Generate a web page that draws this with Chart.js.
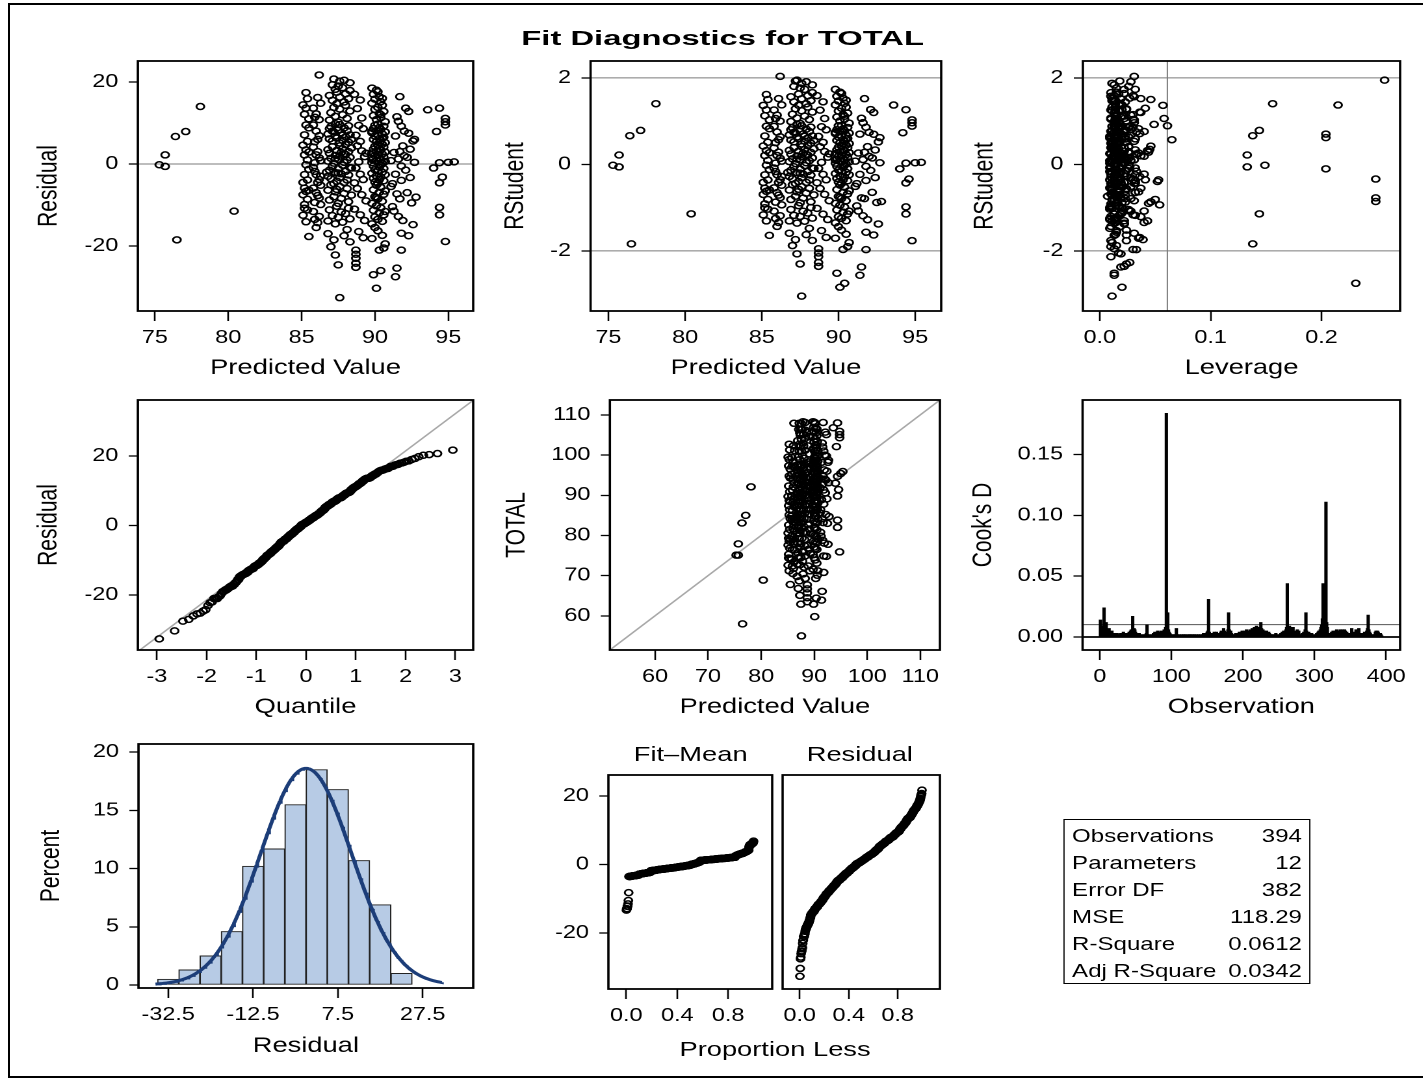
<!DOCTYPE html>
<html>
<head>
<meta charset="utf-8">
<title>Fit Diagnostics for TOTAL</title>
<script src="https://cdn.jsdelivr.net/npm/chart.js@4.4.1/dist/chart.umd.min.js"></script>
<style>
  html, body { margin: 0; padding: 0; background: #fff; }
  #page { position: relative; width: 1423px; height: 1080px; overflow: hidden; background: #fff; }
  #frame { position: absolute; left: 8px; top: 3px; width: 1440px; height: 1075px; border: 2px solid #000; box-sizing: border-box; }
  #stage { position: absolute; left: 0; top: 0; height: 1080px; transform-origin: 0 0; font-family: "Liberation Sans", Arial, sans-serif; color: #000; }
  #stage canvas, #stage .lbl { position: absolute; }
  .lbl { white-space: nowrap; }
  #title { font-weight: bold; font-size: 19.5px; line-height: 24px; transform-origin: 50% 50%; }
  .sub { font-size: 21px; line-height: 24px; }
  #stats { position: absolute; border: 1.5px solid #000; box-sizing: border-box; font-size: 18.5px; padding-top: 2px; }
  #stats div { display: flex; justify-content: space-between; height: 27px; line-height: 27px; padding: 0 6px; }
</style>
</head>
<body>
<div id="page">
  <div id="frame"></div>
  <div id="stage">
    <div id="title" class="lbl">Fit Diagnostics for TOTAL</div>
    <div id="subFit" class="lbl sub">Fit–Mean</div>
    <div id="subRes" class="lbl sub">Residual</div>
    <div id="propLess" class="lbl sub">Proportion Less</div>
    <div id="stats"></div>
  </div>
</div>
<script>
// ---- observations (grouped by band of fitted value) ----
var predicted = [
  75.3, 75.7, 75.7, 76.4, 77.1, 78.1, 80.4, 76.5,
  85.5, 85.2, 85.4, 85.1, 85.3, 85.2, 85.5, 85.3, 85.1, 85.4, 85.2, 85.3, 85.5, 85.2, 85.4, 85.1,
  85.3, 85.5, 85.2, 85.4, 85.1, 85.3, 85.5, 85.2, 85.4, 85.1, 85.3, 85.2, 85.5, 85.3, 85.4,
  86.0, 85.8, 86.2, 85.9, 86.1, 86.3, 85.8, 86.0, 86.2, 85.9, 86.1, 86.3, 85.8, 86.0, 86.2, 85.9, 86.1, 86.3,
  85.8, 86.0, 86.2, 85.9, 86.1, 86.3, 85.8, 86.0, 86.2, 85.9, 86.1, 86.3, 85.8, 86.0, 86.2, 85.9, 86.1, 86.2,
  87.6, 87.5, 87.0, 87.3, 88.1, 86.8, 87.9, 87.2, 88.3,
  87.4, 88.2, 86.9, 87.7, 88.0, 87.1, 87.5, 88.3, 86.8, 87.8, 87.3,
  87.0, 87.6, 88.1, 86.8, 87.3, 87.9, 88.4, 87.2, 87.7, 86.9, 88.2, 87.5, 87.4,
  87.8, 87.1, 88.3, 87.5, 86.9, 88.0, 87.3, 87.7, 88.2, 86.8, 87.6, 87.0, 88.1, 87.4, 87.9, 87.2, 88.4, 86.7, 87.5,
  87.2, 87.9, 86.8, 88.1, 87.5, 87.0, 88.3, 87.6, 87.3, 88.0, 86.9, 87.7, 88.2, 87.4, 86.8, 87.8, 88.4, 87.1, 87.6, 88.0, 87.3, 87.9,
  87.6, 88.2, 87.1, 87.8, 86.9, 87.4, 88.0, 87.3, 88.3, 86.8, 87.7, 87.2, 88.1, 87.5, 86.9, 87.9, 87.0, 88.2, 87.6, 87.3, 88.4, 87.8, 87.1,
  87.5, 86.9, 88.1, 87.3, 87.8, 87.0, 88.3, 87.6, 87.2, 88.0, 87.4,
  87.9, 87.1, 88.2, 87.6, 86.9, 88.0, 87.4, 88.3, 87.3, 87.8, 87.5, 87.1, 88.3,
  87.2, 87.6, 87.9,
  88.7, 88.7, 88.7, 88.7, 88.7, 88.9, 89.2, 88.6, 89.0, 89.3, 88.8, 89.1, 89.4, 88.7, 89.0,
  89.2, 88.6, 88.9, 89.3, 89.1, 88.8, 89.4, 89.0, 88.7, 89.2, 88.9, 89.1, 88.8, 89.0, 88.6,
  90.1, 90.4, 89.9, 90.3, 90.6, 90.0, 90.2, 90.5, 89.8, 90.7,
  90.1, 90.4, 89.9, 90.3, 90.6, 90.0, 90.2, 90.5, 89.8, 90.7,
  90.1, 90.4, 89.9, 90.3, 90.6, 90.0, 90.2, 90.5, 89.8, 90.7, 90.1,
  90.4, 89.9, 90.3, 90.6, 90.0, 90.2, 90.5, 89.8, 90.7, 90.1, 90.4, 89.9, 90.3, 90.6, 90.0, 90.2,
  90.5, 89.8, 90.7, 90.1, 90.4, 89.9, 90.3, 90.6, 90.0, 90.2, 90.5, 89.8, 90.7, 90.1, 90.4, 89.9, 90.3, 90.6, 90.0, 90.2, 90.5, 89.8,
  90.7, 90.1, 90.4, 89.9, 90.3, 90.6, 90.0, 90.2, 90.5, 89.8, 90.7, 90.1, 90.4, 89.9, 90.3, 90.6, 90.0, 90.2, 90.5, 89.8,
  90.7, 90.1, 90.4, 89.9, 90.3, 90.6, 90.0, 90.2, 90.5, 89.8, 90.4,
  90.4, 90.0, 90.3, 89.9, 90.2, 90.1, 89.8, 90.5,
  91.5, 91.4, 91.8, 91.8, 92.3, 91.2, 91.6, 91.3, 91.9, 92.6,
  91.1, 92.2, 91.7, 92.5, 91.5, 92.8, 91.8, 92.1, 91.4, 92.4, 91.8, 91.2,
  92.7, 91.6, 92.0, 91.3, 92.4, 91.9, 91.1, 92.2, 91.7,
  92.6, 91.4, 92.0, 91.8, 92.3, 92.7, 91.5, 92.1, 91.6, 92.3, 91.7,
  94.8, 94.4, 94.4, 94.4, 94.0, 94.6, 94.4, 95.0, 95.4, 94.8, 94.2, 93.6, 94.4, 94.8, 94.8
];

var residual = [
  -0.2, -0.6, 2.2, 6.7, 7.9, 14.0, -11.5, -18.5,
  -17.7, -10.8, -11.2, -12.5, -14.1, -5.9, -6.4, -6.7, -7.5, -8.6, -9.9, -0.2, -1.3, -2.6, -3.9, -4.5,
  3.4, 2.9, 2.2, 1.0, 4.6, 9.5, 8.8, 7.1, 5.5, 14.4, 13.6, 12.1, 11.0, 17.4, 15.9,
  -15.5, -11.6, -12.8, -13.5, -14.3, -5.2, -5.9, -7.0, -8.3, -9.4, -7.7, -9.9, -0.9, -2.6, -3.8, -1.8, -4.5, -3.0,
  4.1, 2.2, 1.5, 0.3, 3.0, 0.8, 9.5, 8.0, 6.9, 5.4, 6.0, 14.8, 13.6, 12.2, 10.8, 11.4, 16.2, 21.7,
  -32.6, -24.6, -20.2, -22.2, -16.0, -17.0, -17.5, -18.5, -19.0,
  -10.3, -10.8, -11.2, -11.7, -12.1, -12.6, -13.0, -13.4, -13.9, -14.2, -14.6,
  -5.1, -5.5, -6.0, -6.4, -6.8, -7.2, -7.6, -8.0, -8.4, -8.8, -9.2, -9.6, -6.2,
  -0.3, -0.6, -0.9, -1.2, -1.5, -1.8, -2.1, -2.4, -2.7, -3.0, -3.3, -3.6, -3.9, -4.2, -4.5, -4.8, -1.0, -2.0, -2.2,
  0.2, 0.4, 0.7, 0.9, 1.1, 1.4, 1.6, 1.9, 2.1, 2.3, 2.6, 2.8, 3.0, 3.3, 3.5, 3.7, 3.9, 4.2, 4.4, 4.7, 1.3, 2.5,
  5.1, 5.3, 5.6, 5.8, 6.1, 6.3, 6.6, 6.8, 7.1, 7.3, 7.6, 7.8, 8.1, 8.3, 8.6, 8.8, 9.1, 9.3, 9.6, 9.8, 6.0, 7.0, 8.0,
  10.2, 10.7, 11.1, 11.6, 12.0, 12.5, 12.9, 13.4, 13.8, 14.3, 14.7,
  15.1, 15.5, 15.9, 16.3, 16.7, 17.1, 17.5, 17.9, 18.2, 18.6, 19.0, 19.3, 19.8,
  20.7, 20.2, 20.4,
  -25.2, -21.0, -22.0, -23.0, -24.2, -16.5, -18.0, -11.0, -12.4, -13.8, -6.0, -7.5, -9.0, -1.0, -2.5,
  -3.8, -4.6, 0.5, 1.8, 3.2, 4.4, 2.6, 5.5, 7.0, 8.6, 9.4, 11.2, 13.5, 15.6, 17.0,
  -30.3, -26.0, -27.0, -21.0, -20.5, -15.5, -16.3, -17.4, -18.2, -19.5,
  -10.2, -10.7, -11.3, -11.9, -12.4, -12.9, -13.5, -14.0, -14.6, -11.6,
  -5.2, -5.7, -6.3, -6.9, -7.4, -8.0, -8.5, -9.1, -9.6, -6.6, -8.2,
  -0.2, -0.5, -0.8, -1.1, -1.4, -1.7, -2.0, -2.3, -2.6, -2.9, -3.2, -3.5, -3.8, -4.1, -4.4, -4.7,
  0.1, 0.3, 0.6, 0.8, 1.0, 1.3, 1.5, 1.7, 2.0, 2.2, 2.4, 2.7, 2.9, 3.1, 3.4, 3.6, 3.8, 4.1, 4.3, 4.5, 4.8, 1.1,
  5.2, 5.4, 5.7, 6.0, 6.2, 6.5, 6.8, 7.0, 7.3, 7.6, 7.8, 8.1, 8.4, 8.6, 8.9, 9.2, 9.4, 9.7, 6.3, 8.0,
  10.3, 10.8, 11.3, 11.8, 12.3, 12.8, 13.3, 13.8, 14.3, 14.8, 12.0,
  15.2, 15.8, 16.4, 17.0, 17.6, 18.0, 18.5, 16.0,
  -25.4, -27.5, -21.0, -16.9, -17.5, -10.4, -12.8, -11.5, -13.8, -14.8,
  -5.5, -7.0, -8.5, -9.5, -7.3, -8.1, -0.5, -1.5, -2.5, -3.3, -4.0, -4.8,
  0.4, 1.2, 2.0, 2.8, 3.6, 4.4, 0.8, 1.6, 3.0,
  5.6, 6.8, 8.0, 9.2, 7.5, 6.0, 11.5, 13.6, 10.4, 12.8, 16.4,
  -18.9, -10.6, -12.4, -4.6, -1.0, -3.2, 0.3, 0.4, 0.5, 9.5, 7.9, 13.2, 13.6, 11.1, 10.3
];

var leverage = [
  .149, .133, .133, .138, .144, .156, .144, .138,
  .013, .020, .009, .030, .015, .037, .011, .023, .018, .050, .010, .026, .014, .032, .009, .019,
  .043, .013, .022, .028, .011, .017, .035, .010, .024, .057, .014, .020, .031, .015, .046,
  .010, .027, .017, .013, .040, .020, .009, .032, .015, .023, .011, .054, .018, .014, .030, .010, .022, .036,
  .013, .019, .026, .009, .044, .017, .011, .033, .014, .023, .065, .018, .010, .028, .015, .022, .037, .031,
  .011, .024, .015, .019, .009, .031, .014, .039, .010,
  .017, .009, .026, .013, .020, .032, .010, .015, .043, .011, .022,
  .014, .028, .010, .018, .035, .013, .023, .007, .019, .011, .046, .015, .024,
  .020, .010, .032, .014, .024, .009, .017, .040, .013, .022, .028, .011, .018, .052, .015, .010, .026, .019, .014,
  .013, .023, .017, .009, .031, .014, .020, .011, .037, .018, .010, .027, .015, .022, .013, .045, .017, .010, .026, .014, .019, .033,
  .015, .010, .024, .018, .013, .032, .009, .020, .014, .028, .011, .017, .040, .010, .022, .014, .026, .013, .019, .049, .011, .023, .015,
  .018, .013, .030, .010, .022, .015, .036, .011, .024, .014, .020,
  .014, .023, .011, .019, .031, .013, .017, .010, .257, .022, .015, .026, .013,
  .018, .011, .028,
  .022, .013, .017, .010, .027, .015, .036, .011, .019, .009, .024, .014, .031, .018, .010,
  .041, .013, .020, .015, .026, .011, .033, .017, .009, .023, .014, .058, .018, .013, .030,
  .020, .231, .013, .030, .010, .018, .024, .014, .035, .011,
  .015, .010, .026, .019, .013, .037, .009, .022, .014, .028,
  .011, .020, .017, .032, .010, .014, .023, .013, .044, .018, .015,
  .013, .027, .009, .018, .015, .033, .011, .022, .014, .024, .010, .019, .053, .013, .017, .031,
  .014, .020, .010, .028, .017, .011, .023, .015, .040, .013, .019, .009, .026, .018, .014, .032, .011, .022, .015, .046, .013, .024,
  .017, .011, .031, .014, .020, .010, .026, .015, .013, .036, .018, .022, .011, .028, .014, .019, .061, .013, .023, .017,
  .014, .024, .010, .019, .030, .013, .017, .041, .011, .020, .015,
  .018, .013, .027, .010, .022, .015, .032, .014,
  .019, .013, .033, .015, .024, .010, .018, .040, .014, .022,
  .017, .011, .028, .020, .249, .249, .014, .023, .018, .013, .032, .015,
  .022, .011, .017, .035, .014, .026, .010, .019, .015,
  .018, .204, .013, .030, .020, .204, .014, .024, .017, .037, .011,
  .024, .018, .013, .032, .204, .249, .015, .022, .011, .027, .017, .215, .020, .014, .031
];

// Cook's D in observation order (1..394)
var cooksD = [
  .014, .004, .009, .006, .005, .024, .008, .011, .012, .006, .003, .005, .007, .004, .002, .003, .005, .002, .001, .003,
  .001, .002, .001, .003, .002, .001, .002, .001, .003, .002, .001, .002, .004, .002, .001, .003, .002, .001, .002, .003,
  .004, .003, .005, .006, .004, .017, .005, .007, .006, .004, .003, .002, .001, .002, .003, .002, .001, .001, .002, .001,
  .001, .002, .001, .002, .003, .010, .002, .001, .001, .002, .001, .001, .002, .001, .003, .002, .004, .003, .002, .004,
  .005, .003, .002, .004, .003, .005, .004, .002, .003, .006, .004, .008, .184, .007, .020, .006, .004, .003, .002, .001,
  .002, .001, .001, .002, .001, .002, .007, .002, .001, .001, .002, .001, .001, .002, .001, .001, .002, .001, .002, .001,
  .001, .002, .001, .001, .002, .001, .002, .001, .001, .002, .001, .002, .001, .001, .002, .001, .001, .002, .001, .001,
  .002, .001, .001, .002, .003, .002, .001, .002, .003, .004, .005, .031, .004, .002, .003, .002, .001, .002, .003, .004,
  .002, .003, .004, .003, .002, .001, .002, .003, .004, .005, .003, .004, .007, .005, .003, .002, .004, .003, .006, .020,
  .006, .004, .005, .003, .002, .001, .002, .001, .002, .003, .002, .001, .002, .003, .004, .003, .002, .004, .005, .003,
  .004, .005, .003, .004, .006, .004, .005, .003, .004, .006, .005, .004, .007, .005, .006, .008, .006, .005, .009, .007,
  .006, .005, .008, .006, .012, .007, .005, .006, .004, .005, .003, .004, .005, .003, .002, .004, .003, .002, .001, .002,
  .001, .002, .001, .001, .002, .003, .001, .002, .001, .001, .002, .001, .003, .002, .004, .003, .005, .004, .003, .006,
  .008, .044, .006, .004, .009, .008, .007, .005, .006, .008, .004, .003, .005, .002, .004, .006, .003, .005, .002, .001,
  .002, .001, .003, .002, .004, .003, .006, .020, .005, .003, .002, .004, .003, .001, .002, .003, .001, .002, .001, .001,
  .002, .001, .003, .002, .004, .005, .003, .006, .008, .010, .015, .044, .042, .038, .030, .111, .012, .008, .003, .002,
  .002, .003, .002, .004, .003, .005, .004, .003, .005, .004, .006, .004, .005, .003, .004, .006, .005, .004, .006, .005,
  .004, .006, .005, .003, .004, .002, .003, .001, .002, .001, .003, .007, .002, .001, .004, .003, .002, .006, .004, .002,
  .006, .007, .003, .002, .001, .002, .003, .001, .002, .004, .002, .003, .005, .007, .018, .006, .004, .003, .002, .001,
  .001, .002, .001, .002, .004, .005, .003, .005, .004, .002, .001, .003, .002, .001
];

// histogram of residuals (percent per bin of width 5)
var binMid = [-32.5, -27.5, -22.5, -17.5, -12.5, -7.5, -2.5, 2.5, 7.5, 12.5, 17.5, 22.5];
var binPercent = [0.5, 1.3, 2.5, 4.6, 10.2, 11.7, 15.5, 18.5, 16.8, 10.7, 6.9, 1.0];
var binWidth = 5;
var residMean = 0;
var residSD = 10.72;
var curveFrom = -35.5, curveTo = 32.2;

// fit statistics
var statLabels = ['Observations', 'Parameters', 'Error DF', 'MSE', 'R-Square', 'Adj R-Square'];
var statValues = ['394', '12', '382', '118.29', '0.0612', '0.0342'];
var nParm = 12;
var mse = 118.29;

// tick labels
var predTicks = [75, 80, 85, 90, 95];
var residTicks = [-20, 0, 20];
var rstudTicks = [-2, 0, 2];
var levTicks = [0, 0.1, 0.2];
var quantTicks = [-3, -2, -1, 0, 1, 2, 3];
var totalTicks = [60, 70, 80, 90, 100, 110];
var obsTicks = [0, 100, 200, 300, 400];
var cookTicks = [0, 0.05, 0.10, 0.15];
var histXTicks = [-32.5, -12.5, 7.5, 27.5];
var pctTicks = [0, 5, 10, 15, 20];
var propTicks = [0, 0.4, 0.8];

// ---- derived diagnostics ----
var n = residual.length;
var dfe = n - nParm;
var rstudent = residual.map(function(e, i) {
	var h = leverage[i];
	var s2i = (dfe * mse - e * e / (1 - h)) / (dfe - 1);
	return e / Math.sqrt(s2i * (1 - h));
});
var total = predicted.map(function(p, i) { return p + residual[i]; });
var levCut = 2 * nParm / n;
var cookCut = 4 / cooksD.length;

function normInv(p) {
	var a = [-39.69683028665376, 220.9460984245205, -275.9285104469687, 138.3577518672690, -30.66479806614716, 2.506628277459239];
	var b = [-54.47609879822406, 161.5858368580409, -155.6989798598866, 66.80131188771972, -13.28068155288572];
	var c = [-0.007784894002430293, -0.3223964580411365, -2.400758277161838, -2.549671010243205, 4.374664141464968, 2.938163982698783];
	var d = [0.007784695709041462, 0.3224671290700398, 2.445134137142996, 3.754408661907416];
	var q, r;
	if (p < 0.02425) {
		q = Math.sqrt(-2 * Math.log(p));
		return (((((c[0] * q + c[1]) * q + c[2]) * q + c[3]) * q + c[4]) * q + c[5]) / ((((d[0] * q + d[1]) * q + d[2]) * q + d[3]) * q + 1);
	}
	if (p > 1 - 0.02425) {
		q = Math.sqrt(-2 * Math.log(1 - p));
		return -(((((c[0] * q + c[1]) * q + c[2]) * q + c[3]) * q + c[4]) * q + c[5]) / ((((d[0] * q + d[1]) * q + d[2]) * q + d[3]) * q + 1);
	}
	q = p - 0.5; r = q * q;
	return (((((a[0] * r + a[1]) * r + a[2]) * r + a[3]) * r + a[4]) * r + a[5]) * q / (((((b[0] * r + b[1]) * r + b[2]) * r + b[3]) * r + b[4]) * r + 1);
}

var sortedResid = residual.slice().sort(function(a, b) { return a - b; });
var fitAvg = predicted.reduce(function(s, v) { return s + v; }, 0) / n;
var sortedFit = predicted.map(function(v) { return v - fitAvg; }).sort(function(a, b) { return a - b; });

// ---- page layout: the reference is stretched sideways, so the stage is too ----
var K = 1.3;
var stage = document.getElementById('stage');
stage.style.width = (1423 / K) + 'px';
stage.style.transform = 'scaleX(' + K + ')';

Chart.defaults.font.family = '"Liberation Sans", Arial, sans-serif';
Chart.defaults.color = '#000';

var TICK_FONT = { size: 18 };
var TITLE_FONT = { size: 21 };
var TITLE_LH = 21 * 1.2;

var frameBox = {
	id: 'frameBox',
	afterDraw: function(chart) {
		var a = chart.chartArea, c = chart.ctx;
		c.save();
		c.strokeStyle = '#000';
		c.lineWidth = 1.8;
		c.strokeRect(a.left, a.top, a.right - a.left, a.bottom - a.top);
		c.restore();
	}
};
Chart.register(frameBox);

function pts(xs, ys) {
	return xs.map(function(x, i) { return { x: x, y: ys[i] }; });
}

function circles(data) {
	return {
		data: data, showLine: false, order: 0,
		pointStyle: 'circle', pointRadius: 3.0, pointBorderWidth: 1.5,
		pointBorderColor: '#000', pointBackgroundColor: 'rgba(0,0,0,0)'
	};
}

function refLine(data, color, width) {
	return {
		type: 'line', data: data, showLine: true, order: 1,
		borderColor: color, borderWidth: width, pointRadius: 0, fill: false, tension: 0
	};
}

function makePanel(p) {
	var x1 = p.area[0], y1 = p.area[1], x2 = p.area[2], y2 = p.area[3];
	var T = 20, R = 16, B = 80;
	var L = p.yTitleDist ? p.yTitleDist / K + TITLE_LH / 2 : p.leftW;
	var w = Math.round(L + (x2 - x1) / K + R);
	var h = Math.round(T + (y2 - y1) + B);
	var cv = document.createElement('canvas');
	cv.width = w;
	cv.height = h;
	cv.style.left = (x1 / K - L) + 'px';
	cv.style.top = (y1 - T) + 'px';
	stage.appendChild(cv);
	var xTitlePad = B - (p.xTitleDist || 57) - TITLE_LH / 2;

	return new Chart(cv, {
		type: p.type || 'scatter',
		data: { datasets: p.datasets },
		options: {
			responsive: false,
			animation: false,
			devicePixelRatio: 2,
			layout: { padding: { left: p.noYAxis ? L : 0, top: T, right: R, bottom: 0 } },
			plugins: { legend: { display: false }, tooltip: { enabled: false } },
			scales: {
				x: {
					type: 'linear', position: 'bottom', min: p.x.min, max: p.x.max, offset: false,
					afterBuildTicks: function(s) { s.ticks = p.x.ticks.map(function(v) { return { value: v }; }); },
					afterFit: function(s) { s.height = B; },
					grid: { offset: false, drawOnChartArea: false, drawTicks: true, tickLength: 10, tickWidth: 1.3, tickColor: '#000' },
					border: { display: false },
					ticks: { font: TICK_FONT, color: '#000', padding: 6, maxRotation: 0, autoSkip: false,
						callback: p.x.fmt || function(v) { return String(v); } },
					title: { display: !!p.x.title, text: p.x.title || '', font: TITLE_FONT, color: '#000',
						padding: { top: 0, bottom: xTitlePad } }
				},
				y: {
					type: 'linear', display: !p.noYAxis, min: p.y.min, max: p.y.max,
					afterBuildTicks: function(s) { s.ticks = p.y.ticks.map(function(v) { return { value: v }; }); },
					afterFit: function(s) { s.width = L; },
					grid: { drawOnChartArea: false, drawTicks: true, tickLength: 7, tickWidth: 1.3, tickColor: '#000' },
					border: { display: false },
					ticks: { font: TICK_FONT, color: '#000', padding: 8, autoSkip: false,
						callback: p.y.fmt || function(v) { return String(v); } },
					title: { display: !!p.y.title, text: p.y.title || '', font: TITLE_FONT, color: '#000',
						padding: { top: 0, bottom: 0 } }
				}
			}
		}
	});
}

var GRAY = '#7a7a7a', LIGHT = '#a8a8a8';

// Residual by predicted
makePanel({
	area: [138, 61, 473, 311], yTitleDist: 89,
	x: { min: 73.84, max: 96.7, ticks: predTicks, title: 'Predicted Value' },
	y: { min: -35.85, max: 25.1, ticks: residTicks, title: 'Residual' },
	datasets: [circles(pts(predicted, residual)), refLine([{ x: 70, y: 0 }, { x: 100, y: 0 }], GRAY, 1)]
});

// RStudent by predicted
makePanel({
	area: [591, 61, 942, 311], yTitleDist: 75,
	x: { min: 73.84, max: 96.7, ticks: predTicks, title: 'Predicted Value' },
	y: { min: -3.39, max: 2.39, ticks: rstudTicks, title: 'RStudent' },
	datasets: [
		circles(pts(predicted, rstudent)),
		refLine([{ x: 70, y: 2 }, { x: 100, y: 2 }], GRAY, 1),
		refLine([{ x: 70, y: -2 }, { x: 100, y: -2 }], GRAY, 1)
	]
});

// RStudent by leverage
makePanel({
	area: [1083, 61, 1400, 311], yTitleDist: 98,
	x: { min: -0.0153, max: 0.271, ticks: levTicks, title: 'Leverage', fmt: function(v) { return v.toFixed(1); } },
	y: { min: -3.39, max: 2.39, ticks: rstudTicks, title: 'RStudent' },
	datasets: [
		circles(pts(leverage, rstudent)),
		refLine([{ x: -1, y: 2 }, { x: 1, y: 2 }], GRAY, 1),
		refLine([{ x: -1, y: -2 }, { x: 1, y: -2 }], GRAY, 1),
		refLine([{ x: levCut, y: -10 }, { x: levCut, y: 10 }], GRAY, 1)
	]
});

// Q-Q plot of residuals
var qq = sortedResid.map(function(r, i) { return { x: normInv((i + 0.625) / (n + 0.25)), y: r }; });
makePanel({
	area: [138, 400, 473, 650], yTitleDist: 89,
	x: { min: -3.38, max: 3.36, ticks: quantTicks, title: 'Quantile' },
	y: { min: -35.8, max: 36.1, ticks: residTicks, title: 'Residual' },
	datasets: [circles(qq), refLine([{ x: -4, y: residMean - 4 * residSD }, { x: 4, y: residMean + 4 * residSD }], LIGHT, 1.4)]
});

// TOTAL by predicted
makePanel({
	area: [610, 400, 940, 650], yTitleDist: 93,
	x: { min: 51.5, max: 113.7, ticks: totalTicks, title: 'Predicted Value' },
	y: { min: 51.5, max: 113.7, ticks: totalTicks, title: 'TOTAL' },
	datasets: [circles(pts(predicted, total)), refLine([{ x: 40, y: 40 }, { x: 120, y: 120 }], LIGHT, 1.4)]
});

// Cook's D by observation
makePanel({
	type: 'bar',
	area: [1083, 400, 1400, 650], yTitleDist: 99,
	x: { min: -24, max: 419.6, ticks: obsTicks, title: 'Observation' },
	y: { min: -0.0107, max: 0.195, ticks: cookTicks, title: "Cook's D", fmt: function(v) { return v.toFixed(2); } },
	datasets: [
		{ type: 'bar', data: cooksD.map(function(d, i) { return { x: i + 1, y: d }; }), backgroundColor: '#000', barThickness: 1.9, order: 1 },
		refLine([{ x: -40, y: 0 }, { x: 440, y: 0 }], '#000', 1.7),
		refLine([{ x: -40, y: cookCut }, { x: 440, y: cookCut }], '#555', 1)
	]
});

// histogram with normal density
var curve = [];
for (var xv = curveFrom; xv <= curveTo + 1e-9; xv += 0.25) {
	var z = (xv - residMean) / residSD;
	curve.push({ x: xv, y: 100 * binWidth * Math.exp(-0.5 * z * z) / (residSD * Math.sqrt(2 * Math.PI)) });
}
makePanel({
	type: 'bar',
	area: [138, 744, 473, 988], yTitleDist: 87, xTitleDist: 58,
	x: { min: -39.5, max: 39.4, ticks: histXTicks, title: 'Residual' },
	y: { min: -0.26, max: 20.7, ticks: pctTicks, title: 'Percent' },
	datasets: [
		{ type: 'bar', data: pts(binMid, binPercent), backgroundColor: '#b7cbe5', borderColor: '#222',
			borderWidth: 1, borderSkipped: false, barPercentage: 1, categoryPercentage: 1, order: 1 },
		{ type: 'line', data: curve, borderColor: '#1c3d78', borderWidth: 3, pointRadius: 0, tension: 0, fill: false, order: 0 }
	]
});

// residual-fit spread plot
var propFit = sortedFit.map(function(v, i) { return { x: (i + 0.5) / n, y: v }; });
var propRes = sortedResid.map(function(v, i) { return { x: (i + 0.5) / n, y: v }; });
var propFmt = function(v) { return v.toFixed(1); };
makePanel({
	area: [609, 775, 773, 989], leftW: 60,
	x: { min: -0.14, max: 1.145, ticks: propTicks, fmt: propFmt },
	y: { min: -36.3, max: 26.1, ticks: residTicks },
	datasets: [circles(propFit)]
});
makePanel({
	area: [778, 775, 941, 989], leftW: 4, noYAxis: true,
	x: { min: -0.14, max: 1.145, ticks: propTicks, fmt: propFmt },
	y: { min: -36.3, max: 26.1, ticks: residTicks },
	datasets: [circles(propRes)]
});

// ---- text blocks ----
function centerAt(id, cx, top) {
	var el = document.getElementById(id);
	el.style.top = top + 'px';
	el.style.left = (cx / K - el.offsetWidth / 2) + 'px';
	return el;
}
var titleEl = centerAt('title', 723, 26.3);
titleEl.style.transform = 'scaleX(' + (403 / K / titleEl.offsetWidth) + ')';
centerAt('subFit', 691, 741.7);
centerAt('subRes', 860, 741.7);
centerAt('propLess', 775, 1036.7);

var stats = document.getElementById('stats');
stats.style.left = (1063 / K) + 'px';
stats.style.top = '819px';
stats.style.width = ((1311 - 1063) / K) + 'px';
stats.style.height = '165px';
statLabels.forEach(function(lab, i) {
	var row = document.createElement('div');
	var a = document.createElement('span');
	var b = document.createElement('span');
	a.textContent = lab;
	b.textContent = statValues[i];
	row.appendChild(a);
	row.appendChild(b);
	stats.appendChild(row);
});
</script>
</body>
</html>
